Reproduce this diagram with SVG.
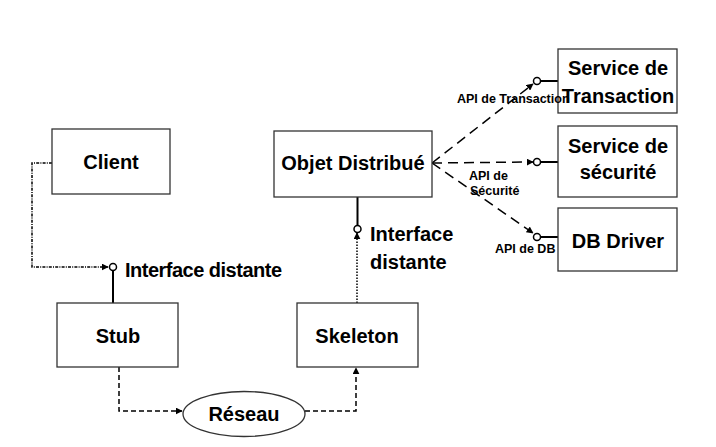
<svg xmlns="http://www.w3.org/2000/svg" width="716" height="447" viewBox="0 0 716 447">
<defs>
<style>
.box{fill:#fff;stroke:#333;stroke-width:1.3}
.lbl{font-family:"Liberation Sans",Arial,sans-serif;font-weight:bold;font-size:20px;fill:#000}
.sm{font-family:"Liberation Sans",Arial,sans-serif;font-weight:bold;font-size:12.5px;fill:#000}
.c{fill:none;stroke:#000;stroke-width:1.5}
.solid{fill:none;stroke:#000;stroke-width:2}
.dashdot{stroke-dasharray:3 1.2 1 1.2}
.dash{stroke-dasharray:5 3}
.ldash{stroke-dasharray:10 6}
.dot{stroke-dasharray:1.5 1.5}
.ring{fill:#fff;stroke:#000;stroke-width:1.5}
</style>
<marker id="ah" viewBox="0 0 10 10" refX="9" refY="5" markerWidth="7" markerHeight="7" markerUnits="userSpaceOnUse" orient="auto">
<path d="M0,0 L10,5 L0,10 Z" fill="#000"/>
</marker>
</defs>
<rect width="716" height="447" fill="#fff"/>
<g id="connectors">
<path class="c dashdot" d="M52,163 H32 V267 H108" marker-end="url(#ah)"/>
<path class="solid" d="M113,271 V303"/>
<circle class="ring" cx="113" cy="267" r="3.5"/>
<path class="solid" d="M357.5,197 V225"/>
<circle class="ring" cx="357.5" cy="229" r="3.5"/>
<path class="c dot" d="M357,303 V233" marker-end="url(#ah)"/>
<path class="c dash" d="M119,367 V411 H182" marker-end="url(#ah)"/>
<path class="c dash" d="M305,411 H356 V368" marker-end="url(#ah)"/>
<path class="c ldash" d="M432,163 L533,84" marker-end="url(#ah)"/>
<path class="c ldash" d="M432,163 L533,162" marker-end="url(#ah)"/>
<path class="c ldash" d="M432,163 L533,233" marker-end="url(#ah)"/>
<path class="solid" d="M540.5,81 H558 M540.5,162 H558 M540.5,237 H558"/>
<circle class="ring" cx="537" cy="81" r="3.5"/>
<circle class="ring" cx="537" cy="162" r="3.5"/>
<circle class="ring" cx="537" cy="237" r="3.5"/>
<text class="lbl" x="125" y="277" textLength="157">Interface distante</text>
<text class="lbl" x="370" y="241">Interface</text>
<text class="lbl" x="370" y="269">distante</text>
</g>
<g id="client">
<rect class="box" x="52" y="129" width="118" height="65"/>
<text class="lbl" x="111" y="169" text-anchor="middle">Client</text>
</g>
<g id="objet">
<rect class="box" x="274" y="131" width="158" height="66"/>
<text class="lbl" x="353" y="170" text-anchor="middle">Objet Distribué</text>
</g>
<g id="stub">
<rect class="box" x="57" y="303" width="121" height="64"/>
<text class="lbl" x="118" y="343" text-anchor="middle">Stub</text>
</g>
<g id="skeleton">
<rect class="box" x="297" y="303" width="121" height="64"/>
<text class="lbl" x="357" y="343" text-anchor="middle">Skeleton</text>
</g>
<g id="reseau">
<ellipse class="box" cx="244" cy="414" rx="61" ry="22.5"/>
<text class="lbl" x="244" y="421" text-anchor="middle">Réseau</text>
</g>
<g id="transaction">
<rect class="box" x="558" y="49" width="119" height="64"/>
<text class="lbl" x="618" y="75" text-anchor="middle">Service de</text>
<text class="lbl" x="618" y="103" text-anchor="middle">Transaction</text>
</g>
<g id="securite">
<rect class="box" x="558" y="126" width="119" height="71"/>
<text class="lbl" x="618" y="153" text-anchor="middle">Service de</text>
<text class="lbl" x="618" y="179" text-anchor="middle">sécurité</text>
</g>
<g id="dbdriver">
<rect class="box" x="558" y="208" width="119" height="63"/>
<text class="lbl" x="618" y="248" text-anchor="middle">DB Driver</text>
</g>
<g id="connector-labels">
<text class="sm" x="457" y="103">API de Transaction</text>
<text class="sm" x="469" y="180">API de</text>
<text class="sm" x="470" y="195">Sécurité</text>
<text class="sm" x="495" y="253">API de DB</text>
</g>
</svg>
